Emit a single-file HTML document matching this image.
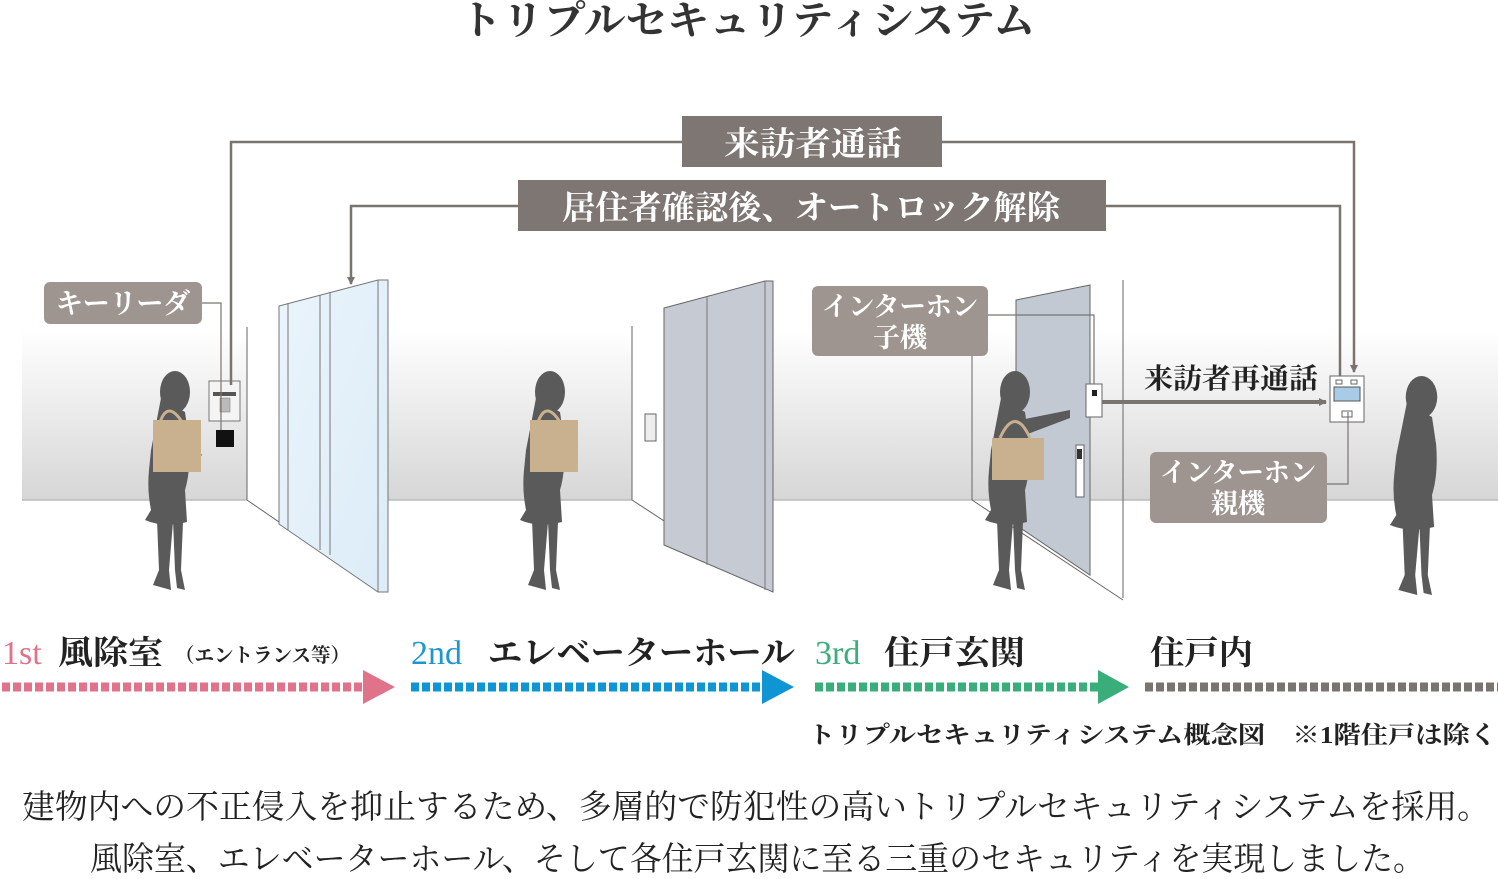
<!DOCTYPE html>
<html><head><meta charset="utf-8"><style>
html,body{margin:0;padding:0;background:#fff;}
svg{display:block;}
text{font-family:"Liberation Serif","Noto Serif CJK JP","Noto Serif CJK SC",serif;}
</style></head><body>
<svg width="1498" height="879" viewBox="0 0 1498 879" xmlns="http://www.w3.org/2000/svg">
<defs>
<linearGradient id="wall" x1="0" y1="0" x2="0" y2="1">
<stop offset="0" stop-color="#ffffff"/><stop offset="1" stop-color="#d6d6d6"/>
</linearGradient>
<linearGradient id="glass" x1="0" y1="0" x2="1" y2="1">
<stop offset="0" stop-color="#eaf4fb"/><stop offset="1" stop-color="#dcecf8"/>
</linearGradient>
<marker id="ah" markerWidth="8" markerHeight="8" refX="7" refY="4" orient="auto" markerUnits="userSpaceOnUse">
<path d="M0,0 L8,4 L0,8 Z" fill="#7a7470"/>
</marker>
<g id="fig">
<ellipse cx="30" cy="22" rx="15" ry="21" fill="#5a5a5a"/>
<path d="M16,28 Q8,70 6,80 L4,100 Q2,120 6,140 L0,150 Q18,158 42,152 L40,120 Q46,100 44,70 L40,42 Z" fill="#5a5a5a"/>
<path d="M12,150 L14,200 L8,215 L26,220 L24,200 L28,152 Z" fill="#5a5a5a"/>
<path d="M28,150 L30,200 L32,218 L40,220 L36,200 L38,152 Z" fill="#5a5a5a"/>
</g>
</defs>

<text x="460" y="34" font-size="40" fill="#333" font-weight="bold" textLength="575" lengthAdjust="spacingAndGlyphs">トリプルセキュリティシステム</text>

<!-- wall -->
<rect x="22" y="330" width="1476" height="170" fill="url(#wall)"/>
<line x1="22" y1="500" x2="1498" y2="500" stroke="#bbb" stroke-width="1.5"/>

<!-- 1st area -->
<rect x="247" y="330" width="35" height="260" fill="#fff"/>
<line x1="247" y1="327" x2="247" y2="500" stroke="#666" stroke-width="1"/>
<line x1="247" y1="500" x2="378" y2="590" stroke="#666" stroke-width="1"/>
<polygon points="279,306 378,280 388,280 388,592 378,592 279,524" fill="url(#glass)" stroke="#777" stroke-width="1"/>
<line x1="288" y1="303" x2="288" y2="530" stroke="#777"/>
<line x1="320" y1="295" x2="320" y2="550" stroke="#777"/>
<line x1="330" y1="292" x2="330" y2="555" stroke="#777"/>
<line x1="378" y1="280" x2="378" y2="592" stroke="#777"/>
<rect x="209" y="381" width="31" height="40" fill="#f4f4f4" stroke="#777"/>
<rect x="213" y="392" width="23" height="4" fill="#555"/>
<rect x="220" y="398" width="10" height="14" fill="#bbb" stroke="#777" stroke-width="0.5"/>
<rect x="216" y="430" width="18" height="17" fill="#111"/>

<!-- elevator -->
<rect x="632" y="330" width="35" height="260" fill="#fff"/>
<line x1="632" y1="326" x2="632" y2="500" stroke="#666"/>
<line x1="632" y1="500" x2="773" y2="592" stroke="#666"/>
<polygon points="664,308 765,281 773,281 773,592 664,545" fill="#c5cad3" stroke="#666" stroke-width="1"/>
<line x1="707" y1="297" x2="707" y2="565" stroke="#777"/>
<line x1="765" y1="281" x2="765" y2="590" stroke="#777"/>
<rect x="645" y="414" width="11" height="27" fill="#eee" stroke="#666"/>

<!-- 3rd door -->
<line x1="972" y1="355" x2="972" y2="500" stroke="#666"/>
<line x1="972" y1="500" x2="1123" y2="600" stroke="#666"/>
<polygon points="1016,300 1090,285 1090,575 1016,525" fill="#c3c9d3" stroke="#666"/>
<line x1="1123" y1="280" x2="1123" y2="598" stroke="#666"/>
<rect x="1076" y="445" width="8" height="52" fill="#fff" stroke="#666"/>
<rect x="1077" y="449" width="5" height="10" fill="#333"/>
<rect x="1086" y="384" width="16" height="33" fill="#fff" stroke="#666"/>
<rect x="1092" y="390" width="5" height="6" fill="#222"/>

<!-- master unit -->
<rect x="1330" y="376" width="34" height="46" fill="#fff" stroke="#666"/>
<rect x="1336" y="380" width="6" height="4" fill="none" stroke="#666"/>
<rect x="1351" y="380" width="6" height="4" fill="none" stroke="#666"/>
<rect x="1334" y="387" width="26" height="14" fill="#a9cbe6" stroke="#555"/>
<rect x="1342" y="411" width="10" height="6" fill="none" stroke="#666"/>

<!-- figures -->
<use href="#fig" transform="translate(145,370)"/>
<path d="M170,420 L202,455 L196,460 L168,435 Z" fill="#5a5a5a"/>
<rect x="153" y="420" width="48" height="52" fill="#c9b18f"/>
<path d="M160,422 Q168,400 182,422" fill="none" stroke="#c9b18f" stroke-width="3"/>
<use href="#fig" transform="translate(520,370)"/>
<rect x="530" y="420" width="48" height="52" fill="#c9b18f"/>
<path d="M538,422 Q546,400 560,422" fill="none" stroke="#c9b18f" stroke-width="3"/>
<use href="#fig" transform="translate(985,370)"/>
<path d="M1020,420 L1070,410 L1070,418 L1025,435 Z" fill="#5a5a5a"/>
<rect x="992" y="438" width="52" height="42" fill="#c9b18f"/>
<path d="M1000,438 Q1015,405 1030,438" fill="none" stroke="#c9b18f" stroke-width="3"/>
<use href="#fig" transform="translate(1390,375) scale(1.05,1)"/>

<!-- connectors -->
<g stroke="#7a7470" stroke-width="2.5" fill="none">
<polyline points="682,142 231,142 231,385"/>
<polyline points="942,142 1354,142 1354,372" marker-end="url(#ah)"/>
<polyline points="518,206 351,206 351,284" marker-end="url(#ah)"/>
<polyline points="1106,206 1340,206 1340,376"/>
<polyline points="1102,402 1326,402" stroke-width="4" marker-end="url(#ah)"/>
</g>
<g stroke="#7a7470" stroke-width="1.2" fill="none">
<polyline points="202,303 221,303 221,430"/>
<polyline points="988,315 1094,315 1094,384"/>
<polyline points="1327,484 1348,484 1348,412"/>
</g>

<!-- labels -->
<rect x="682" y="116" width="260" height="51" fill="#7d7672"/>
<text x="724" y="155" font-size="33" fill="#fff" font-weight="bold" textLength="178" lengthAdjust="spacingAndGlyphs">来訪者通話</text>
<rect x="518" y="180" width="588" height="51" fill="#7d7672"/>
<text x="562" y="219" font-size="33" fill="#fff" font-weight="bold" textLength="498" lengthAdjust="spacingAndGlyphs">居住者確認後、オートロック解除</text>
<rect x="44" y="282" width="158" height="42" rx="6" fill="#9e9590"/>
<text x="56" y="313" font-size="28" fill="#fff" font-weight="bold" textLength="134" lengthAdjust="spacingAndGlyphs">キーリーダ</text>
<rect x="812" y="286" width="176" height="70" rx="6" fill="#9e9590"/>
<text x="822" y="316" font-size="27" fill="#fff" font-weight="bold" textLength="156" lengthAdjust="spacingAndGlyphs">インターホン</text>
<text x="900" y="347" text-anchor="middle" font-size="27" fill="#fff" font-weight="bold">子機</text>
<rect x="1150" y="452" width="177" height="71" rx="6" fill="#9e9590"/>
<text x="1160" y="482" font-size="27" fill="#fff" font-weight="bold" textLength="156" lengthAdjust="spacingAndGlyphs">インターホン</text>
<text x="1238" y="513" text-anchor="middle" font-size="27" fill="#fff" font-weight="bold">親機</text>
<text x="1144" y="388" font-size="28" fill="#222" font-weight="bold" textLength="174" lengthAdjust="spacingAndGlyphs">来訪者再通話</text>

<!-- stage labels -->
<text x="2" y="664" font-size="34" fill="#e0728a">1st</text>
<text x="58" y="664" font-size="33" fill="#222" font-weight="bold" textLength="105" lengthAdjust="spacingAndGlyphs">風除室</text>
<text x="175" y="662" font-size="20" fill="#222" font-weight="bold" textLength="175" lengthAdjust="spacingAndGlyphs">（エントランス等）</text>
<text x="411" y="664" font-size="34" fill="#1e96d2">2nd</text>
<text x="488" y="664" font-size="33" fill="#222" font-weight="bold" textLength="307" lengthAdjust="spacingAndGlyphs">エレベーターホール</text>
<text x="815" y="664" font-size="34" fill="#3aae7a">3rd</text>
<text x="884" y="664" font-size="33" fill="#222" font-weight="bold" textLength="141" lengthAdjust="spacingAndGlyphs">住戸玄関</text>
<text x="1150" y="664" font-size="33" fill="#222" font-weight="bold" textLength="103" lengthAdjust="spacingAndGlyphs">住戸内</text>

<g stroke-width="9" stroke-dasharray="8 3">
<line x1="2" y1="687" x2="364" y2="687" stroke="#e0728a"/>
<line x1="411" y1="687" x2="764" y2="687" stroke="#0f95d3"/>
<line x1="815" y1="687" x2="1099" y2="687" stroke="#3aae7a"/>
<line x1="1145" y1="687" x2="1498" y2="687" stroke="#7a7470"/>
</g>
<polygon points="363,670 395,687 363,704" fill="#e0728a"/>
<polygon points="762,670 794,687 762,704" fill="#0f95d3"/>
<polygon points="1098,670 1129,687 1098,704" fill="#3aae7a"/>

<text x="808" y="743" font-size="24" fill="#222" font-weight="bold" textLength="689" lengthAdjust="spacingAndGlyphs">トリプルセキュリティシステム概念図　※1階住戸は除く</text>

<text x="22" y="818" font-size="33" fill="#222" textLength="1468" lengthAdjust="spacingAndGlyphs">建物内への不正侵入を抑止するため、多層的で防犯性の高いトリプルセキュリティシステムを採用。</text>
<text x="90" y="870" font-size="33" fill="#222" textLength="1335" lengthAdjust="spacingAndGlyphs">風除室、エレベーターホール、そして各住戸玄関に至る三重のセキュリティを実現しました。</text>
</svg>
</body></html>
